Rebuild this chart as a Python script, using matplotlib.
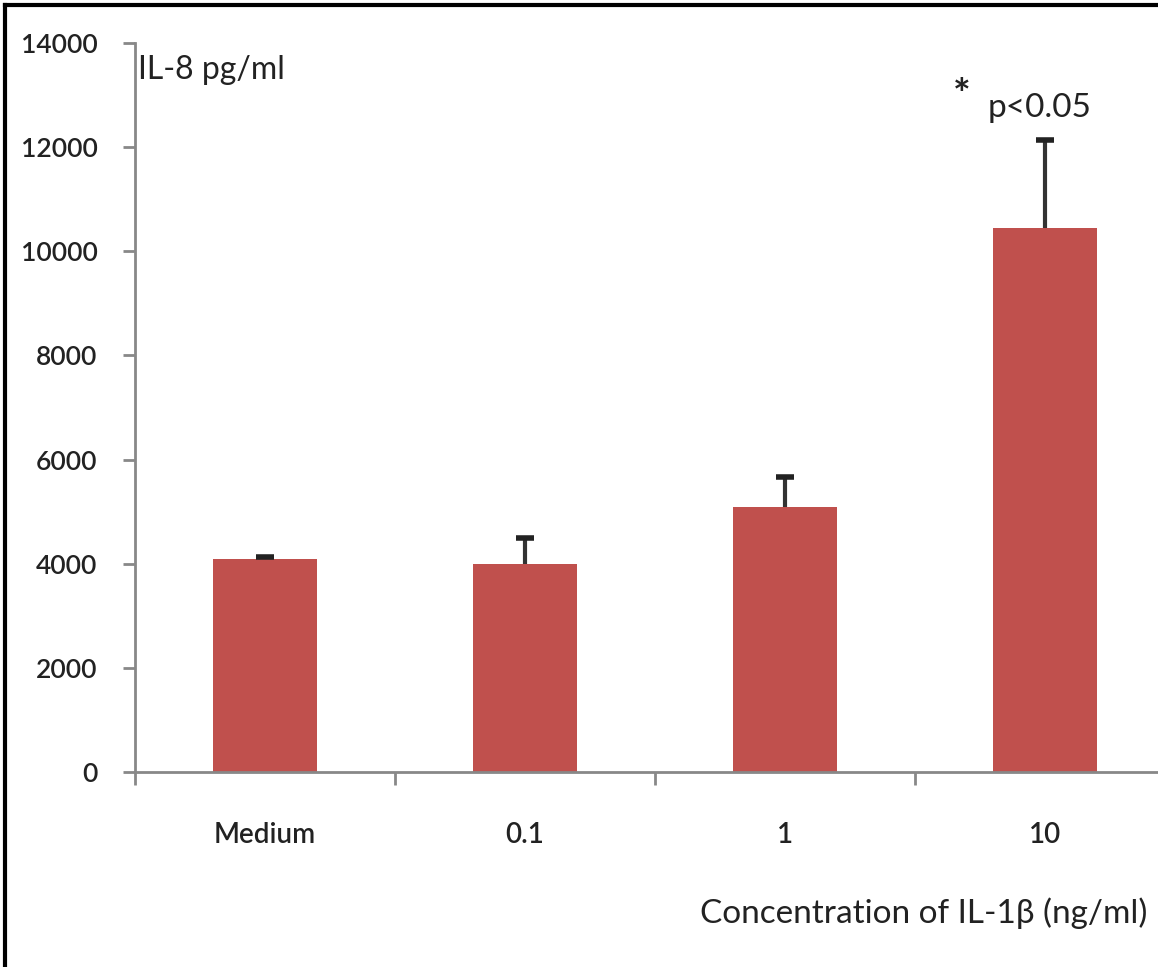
import matplotlib.pyplot as plt
from matplotlib.lines import Line2D

# Data
categories = ['Medium', '0.1', '1', '10']
il8_means = [4090, 4000, 5090, 10450]
il8_errors = [40, 500, 575, 1690]
yticks = [0, 2000, 4000, 6000, 8000, 10000, 12000, 14000]

plt.rcParams['font.family'] = ['Lato', 'DejaVu Sans']

W, H = 1158, 967
fig = plt.figure(figsize=(W / 100, H / 100), dpi=100)
ax = fig.add_axes([135 / W, (H - 772) / H, 1040 / W, (772 - 43) / H])

x = list(range(len(categories)))
tops = [m + e for m, e in zip(il8_means, il8_errors)]
ax.bar(x, il8_means, width=0.4, color='#C0504D', zorder=2)
ax.errorbar(x, il8_means, yerr=[[0] * len(il8_errors), il8_errors],
            fmt='none', ecolor='#333333', elinewidth=3, capsize=0, zorder=3)
ax.scatter(x, tops, marker='_', s=170, linewidths=4, color='#222222', zorder=4)

ax.set_xlim(-0.5, 3.5)
ax.set_ylim(0, 14000)
ax.set_yticks(yticks)
ax.set_yticklabels([str(v) for v in yticks], fontsize=19, color='#222222',
                   fontweight='semibold')
ax.set_xticks([i + 0.5 for i in range(-1, 4)])
ax.set_xticklabels([])
ax.set_xticks(x, minor=True)
ax.set_xticklabels(categories, minor=True, fontsize=20, color='#222222',
                   fontweight='semibold')
ax.tick_params(axis='x', which='minor', length=0, pad=36)
ax.tick_params(axis='x', which='major', direction='out', length=9,
               width=2, color='#888888')
ax.tick_params(axis='y', direction='out', length=9, width=2,
               color='#888888', pad=18)

for s in ['top', 'right']:
    ax.spines[s].set_visible(False)
for s in ['left', 'bottom']:
    ax.spines[s].set_color('#888888')
    ax.spines[s].set_linewidth(2)

fig.text(138 / W, 1 - 70 / H, 'IL-8 pg/ml', fontsize=23, color='#222222',
         ha='left', va='center')
fig.text(962 / W, 1 - 97 / H, '*', fontsize=30, color='#222222',
         ha='center', va='center', fontweight='bold')
fig.text(988 / W, 1 - 108 / H, 'p<0.05', fontsize=24, color='#222222',
         ha='left', va='center')
fig.text(1147 / W, 1 - 913 / H, 'Concentration of IL-1β (ng/ml)',
         fontsize=24, color='#222222', ha='right', va='center')

# frame on left and top edges
fig.add_artist(Line2D([5 / W, 5 / W], [0, 1 - 5 / H], color='black', lw=3))
fig.add_artist(Line2D([5 / W, 1], [1 - 5 / H, 1 - 5 / H], color='black', lw=3))

fig.savefig('out.png', dpi=100)
